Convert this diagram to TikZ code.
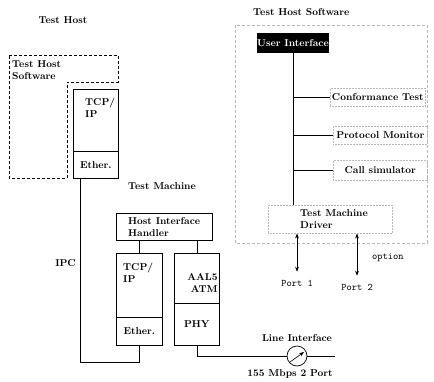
\documentclass[tikz,border=0pt]{standalone}
\usepackage{tikz}
\usetikzlibrary{arrows.meta,positioning,calc}
\definecolor{FadeGray}{HTML}{B8B8B8}

\begin{document}
\begin{tikzpicture}[x=1pt, y=-1pt,
  box/.style={draw, line width=0.7pt, inner sep=0pt, anchor=north west,
              font=\bfseries},
  faint/.style={draw=FadeGray, densely dotted, line width=0.5pt,
                inner sep=0pt, anchor=north west, font=\bfseries},
  lbl/.style={font=\bfseries, align=left, inner sep=0pt},
  port/.style={font=\ttfamily, inner sep=0pt},
  wire/.style={line width=0.7pt},
  arr/.style={{Stealth[length=5pt]}-{Stealth[length=5pt]}, line width=0.6pt}
]
  \useasboundingbox (0,0) rectangle (434,381);

  % test host
  \node[lbl] (th) at (63,20) {Test Host};
  \draw[wire, densely dashed] (9,55) -- (118,55) -- (118,82) -- (67,82)
    -- (67,178) -- (9,178) -- cycle;
  \node[lbl, anchor=north west] (ths) at (12,60) {Test Host\\Software};
  \node[box, minimum width=45, minimum height=62] (hip) at (73,89) {};
  \node[box, minimum width=45, minimum height=27] (heth) at (73,151) {Ether.};
  \node[lbl, below right=9pt and 12pt of hip.north west] (hipt) {TCP/\\IP};

  % test machine
  \node[lbl] (tm) at (162,186) {Test Machine};
  \node[box, minimum width=96, minimum height=27] (hih) at (116,213) {};
  \node[lbl, right=12pt of hih.west] (hiht) {Host Interface\\Handler};
  \node[box, minimum width=46, minimum height=64] (mtcp) at (116,253) {};
  \node[box, minimum width=46, minimum height=28] (meth) at (116,317) {Ether.};
  \node[lbl, below right=10pt and 7pt of mtcp.north west] (mtcpt) {TCP/\\IP};
  \node[box, minimum width=45, minimum height=50] (aal) at (174,253) {};
  \node[lbl, align=right, below left=20pt and 2pt of aal.north east] (aalt)
    {AAL5\\ATM};
  \node[box, minimum width=45, minimum height=42] (phy) at (174,303) {PHY};
  \draw[wire] (hih.south -| mtcp.north) -- (mtcp.north);
  \draw[wire] (hih.south -| aal.north) -- (aal.north);

  % IPC
  \coordinate (ipc) at (80,362);
  \draw[wire] (heth.south -| ipc) -- (ipc) -| (meth.south);
  \node[lbl, anchor=east] (ipcl) at (76,263) {IPC};

  % line interface
  \node[draw, circle, minimum size=20, line width=0.7pt, inner sep=0pt] (li)
    at (297,356) {};
  \coordinate (lend) at (335,356);
  \draw[wire] (phy.south) |- (li.west);
  \draw[wire] (li.east) -- (lend);
  \draw[-{Stealth[length=5pt]}, line width=0.6pt]
    ($(li.center)+(-7,6)$) -- ($(li.center)+(7,-4)$);
  \node[lbl, above=4pt of li] (lil) {Line Interface};
  \node[lbl] (rate) at (290,374) {155 Mbps 2 Port};

  % test host software
  \node[lbl, anchor=west] (ths2) at (253,12) {Test Host Software};
  \draw[FadeGray, densely dashed, line width=0.5pt] (235,25) rectangle (427,243);
  \node[fill=black, text=white, font=\bfseries, minimum width=72,
        minimum height=20, inner sep=0pt] (ui) at (293,43) {User Interface};
  \node[faint, minimum width=95, minimum height=18] (conf) at (330,88)
    {Conformance Test};
  \node[faint, minimum width=94, minimum height=18] (pmon) at (333,126)
    {Protocol Monitor};
  \node[faint, minimum width=94, minimum height=20] (csim) at (333,160)
    {Call simulator};
  \node[faint, minimum width=124, minimum height=28] (drv) at (268,205) {};
  \node[lbl, below right=4pt and 32pt of drv.north west] (drvt)
    {Test Machine\\Driver};
  \draw[wire] (ui.south) -- (ui.south |- drv.north);
  \foreach \n in {conf,pmon,csim}
    \draw[wire] (ui.south |- \n.west) -- (\n.west);

  % ports
  \node[port] (p1) at (297,283) {Port 1};
  \node[port] (p2) at (357,287) {Port 2};
  \draw[arr, shorten >=8pt] (drv.south -| p1) -- (p1.north);
  \draw[arr, shorten >=8pt] (drv.south -| p2) -- (p2.north);
  \node[port, anchor=west] (opt) at (372,258) {option};
\end{tikzpicture}
\end{document}
